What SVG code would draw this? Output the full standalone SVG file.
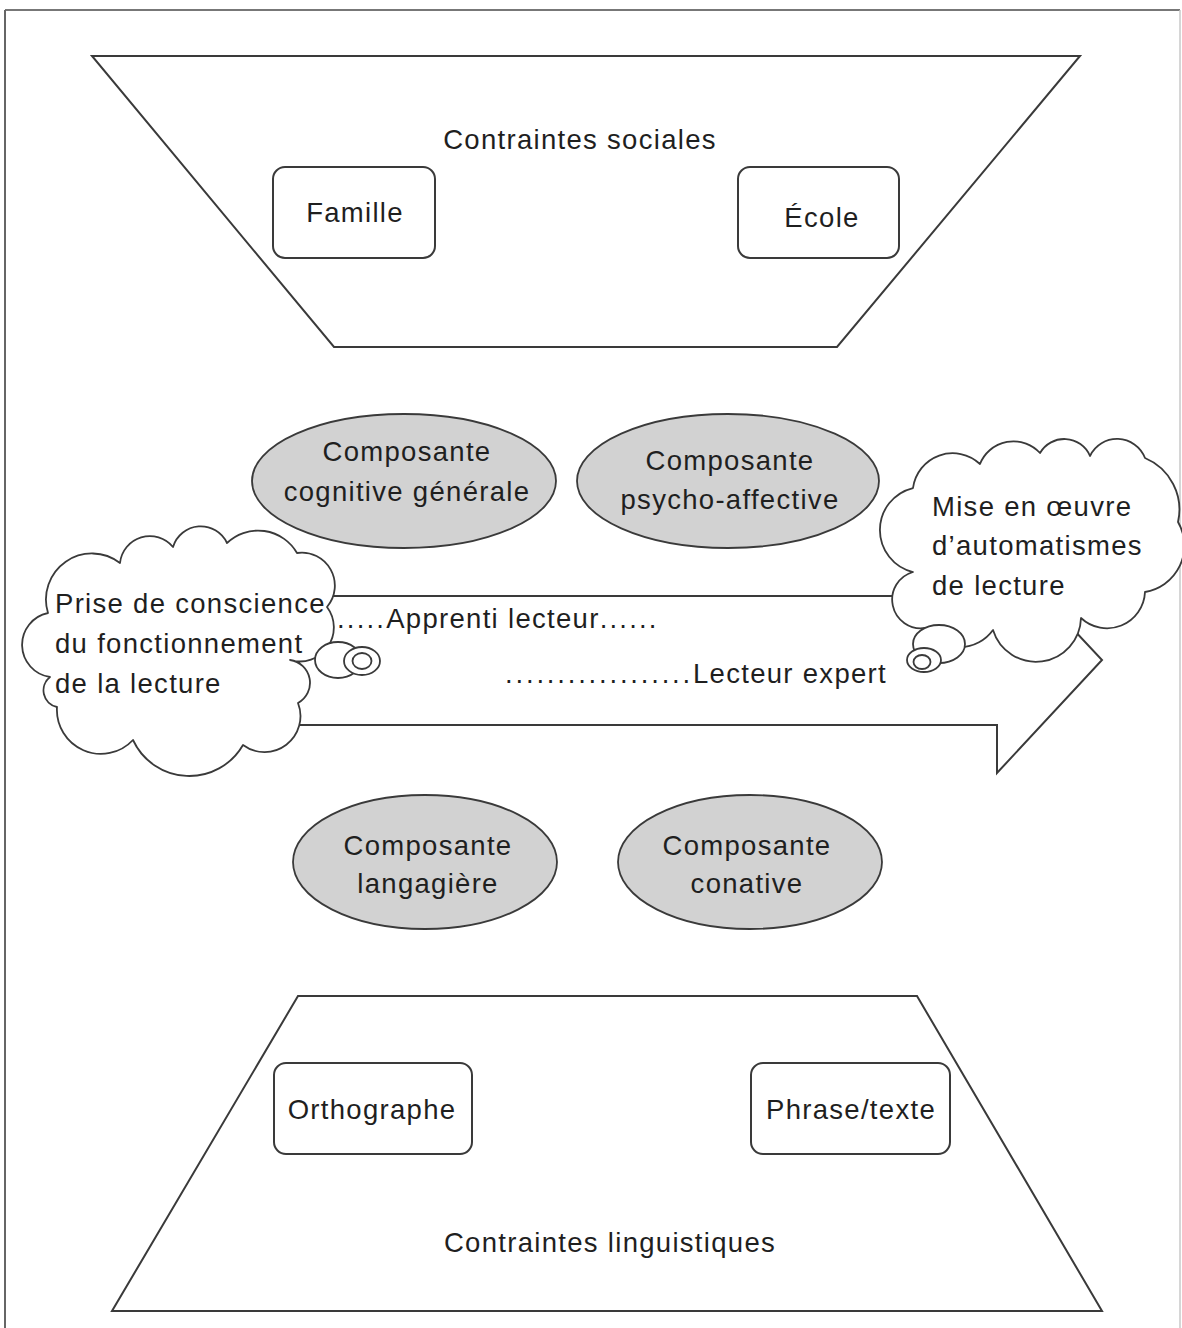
<svg xmlns="http://www.w3.org/2000/svg" width="1182" height="1328" viewBox="0 0 1182 1328">
<style>
  .ln { fill: none; stroke: #3a3a3a; stroke-width: 2; stroke-linejoin: miter; }
  .wh { fill: #ffffff; stroke: #3a3a3a; stroke-width: 2; }
  .box { fill: #ffffff; stroke: #3a3a3a; stroke-width: 2; }
  .ell { fill: #d2d2d2; stroke: #3a3a3a; stroke-width: 1.8; }
  .cloud { fill: #ffffff; stroke: #3a3a3a; stroke-width: 1.8; stroke-linejoin: round; }
  .t { font-family: "Liberation Sans", Arial, sans-serif; font-size: 27.5px; letter-spacing: 1.3px; fill: #1f1f1f; }
  .c { text-anchor: middle; }
</style>
<rect x="0" y="0" width="1182" height="1328" fill="#ffffff"/>
<g id="frame">
  <line x1="5" y1="10" x2="1180" y2="10" stroke="#777" stroke-width="2"/>
  <line x1="5" y1="10" x2="5" y2="1328" stroke="#666" stroke-width="2"/>
  <line x1="1180" y1="10" x2="1180" y2="1328" stroke="#c8c8c8" stroke-width="1.5"/>
</g>

<g id="contraintes-sociales">
  <polygon class="wh" points="92,56 1080,56 837,347 334,347"/>
  <text class="t c" x="580" y="149">Contraintes sociales</text>
</g>
<g id="famille">
  <rect class="box" x="273" y="167" width="162" height="91" rx="12"/>
  <text class="t c" x="355" y="222">Famille</text>
</g>
<g id="ecole">
  <rect class="box" x="738" y="167" width="161" height="91" rx="12"/>
  <text class="t c" x="822" y="227">École</text>
</g>

<g id="contraintes-linguistiques">
  <polygon class="wh" points="298,996 917,996 1102,1311 112,1311"/>
  <text class="t c" x="610" y="1252">Contraintes linguistiques</text>
</g>
<g id="orthographe">
  <rect class="box" x="274" y="1063" width="198" height="91" rx="12"/>
  <text class="t c" x="372" y="1119">Orthographe</text>
</g>
<g id="phrase-texte">
  <rect class="box" x="751" y="1063" width="199" height="91" rx="12"/>
  <text class="t c" x="851" y="1119">Phrase/texte</text>
</g>

<g id="connectors">
  <path class="ln" stroke-width="2.5" fill="#ffffff" d="M 200 596 H 997 V 548 L 1102 660 L 997 773 V 725 H 200"/>
  <text class="t" x="337" y="628"><tspan letter-spacing="2.2">.....</tspan>Apprenti lecteur<tspan letter-spacing="2.2">......</tspan></text>
  <text class="t" x="887" y="683" text-anchor="end"><tspan letter-spacing="2.8">..................</tspan>Lecteur expert</text>
</g>

<g id="composante-cognitive">
  <ellipse class="ell" cx="404" cy="481" rx="152" ry="67"/>
  <text class="t c" x="407" y="461">Composante</text>
  <text class="t c" x="407" y="501">cognitive générale</text>
</g>
<g id="composante-psycho-affective">
  <ellipse class="ell" cx="728" cy="481" rx="151" ry="67"/>
  <text class="t c" x="730" y="470">Composante</text>
  <text class="t c" x="730" y="509">psycho-affective</text>
</g>
<g id="composante-langagiere">
  <ellipse class="ell" cx="425" cy="862" rx="132" ry="67"/>
  <text class="t c" x="428" y="855">Composante</text>
  <text class="t c" x="428" y="893">langagière</text>
</g>
<g id="composante-conative">
  <ellipse class="ell" cx="750" cy="862" rx="132" ry="67"/>
  <text class="t c" x="747" y="855">Composante</text>
  <text class="t c" x="747" y="893">conative</text>
</g>

<g id="prise-de-conscience">
  <path class="cloud" d="M 48 613 A 46 46 0 0 1 120 563 A 30 30 0 0 1 173 547 A 29 29 0 0 1 227 543 A 45 45 0 0 1 297 553 A 33 33 0 0 1 327 607 A 34 34 0 0 1 290 660 A 23 23 0 0 1 298 703 A 36 36 0 0 1 243 745 A 62 62 0 0 1 133 740 A 44 44 0 0 1 57 707 A 17 17 0 0 1 50 677 A 32.5 32.5 0 0 1 48 613 Z"/>
  <ellipse class="cloud" cx="338" cy="660" rx="23" ry="18"/>
  <ellipse class="cloud" cx="362" cy="661" rx="18" ry="14"/>
  <ellipse class="cloud" cx="362" cy="661" rx="9.5" ry="8"/>
  <text class="t" x="55" y="613">Prise de conscience</text>
  <text class="t" x="55" y="653">du fonctionnement</text>
  <text class="t" x="55" y="693">de la lecture</text>
</g>

<g id="mise-en-oeuvre">
  <path class="cloud" d="M 913 488 A 40 40 0 0 1 980 464 A 36 36 0 0 1 1040 453 A 28 28 0 0 1 1090 456 A 30 30 0 0 1 1145 458 A 56 56 0 0 1 1178 522 A 47 47 0 0 1 1145 592 A 38 38 0 0 1 1081 618 A 45 45 0 0 1 993 630 A 41 41 0 0 1 925 628 A 28.7 28.7 0 0 1 913 572 A 43.2 43.2 0 0 1 913 488 Z"/>
  <ellipse class="cloud" cx="939" cy="644" rx="26" ry="19"/>
  <ellipse class="cloud" cx="924" cy="660" rx="17" ry="12"/>
  <ellipse class="cloud" cx="922" cy="662" rx="8.5" ry="7"/>
  <text class="t" x="932" y="516">Mise en œuvre</text>
  <text class="t" x="932" y="555">d’automatismes</text>
  <text class="t" x="932" y="595">de lecture</text>
</g>
</svg>
